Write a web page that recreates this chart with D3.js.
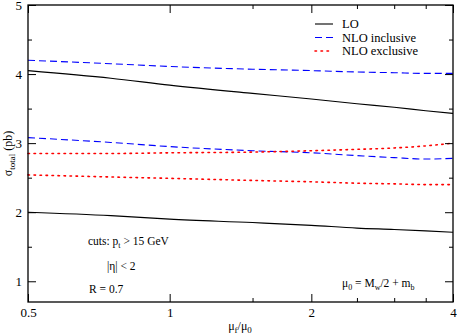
<!DOCTYPE html>
<html>
<head>
<meta charset="utf-8">
<script src="https://cdn.jsdelivr.net/npm/d3@7"></script>
<style>
  body { margin: 0; background: #fff; }
</style>
</head>
<body>
<script>
// scale ratio mu_f/mu_0 where each curve was evaluated
const muRatio = [0.5, 0.75, 1, 1.5, 2, 2.5, 3, 3.5, 4];

// cross sections (pb), two curves per order
const loUpper = [4.05, 3.94, 3.84, 3.72, 3.64, 3.57, 3.52, 3.47, 3.43];
const loLower = [2.00, 1.95, 1.90, 1.85, 1.81, 1.77, 1.75, 1.73, 1.71];
const nloInclUpper = [4.20, 4.15, 4.11, 4.07, 4.05, 4.03, 4.02, 4.01, 4.01];
const nloInclLower = [3.08, 3.01, 2.95, 2.89, 2.86, 2.82, 2.79, 2.77, 2.78];
const nloExclUpper = [2.85, 2.85, 2.86, 2.87, 2.89, 2.91, 2.93, 2.96, 3.00];
const nloExclLower = [2.54, 2.51, 2.49, 2.46, 2.44, 2.42, 2.41, 2.40, 2.40];

const xMajor = [0.5, 1, 2, 4];
const xMinor = [1.5, 2.5, 3, 3.5];
const yMajor = [1, 2, 3, 4, 5];
const yMinor = [1.5, 2.5, 3.5, 4.5];

const legendLabels = ["LO", "NLO inclusive", "NLO exclusive"];

const W = 457, H = 334;
const pLeft = 28, pRight = 453, pTop = 5, pBottom = 302;
const FONT = "'Liberation Serif'";

const svg = d3.select("body").append("svg")
  .attr("width", W)
  .attr("height", H);

const x = d3.scaleLog().domain([0.5, 4]).range([pLeft, pRight]);
const y = d3.scaleLinear().domain([0.7, 5]).range([pBottom, pTop]);

// curves
const styles = [
  { color: "#000", dash: null, w: 1.1 },
  { color: "#0000ff", dash: "7,4", w: 1.1 },
  { color: "#ff0000", dash: "1.5,4.5", w: 1.6 }
];
const curves = [
  [loUpper, 0], [loLower, 0],
  [nloInclUpper, 1], [nloInclLower, 1],
  [nloExclUpper, 2], [nloExclLower, 2]
];

const line = d3.line()
  .x(d => x(d[0]))
  .y(d => y(d[1]))
  .curve(d3.curveMonotoneX);

curves.forEach(([vals, s]) => {
  svg.append("path")
    .datum(muRatio.map((m, i) => [m, vals[i]]))
    .attr("d", line)
    .attr("fill", "none")
    .attr("stroke", styles[s].color)
    .attr("stroke-width", styles[s].w)
    .attr("stroke-dasharray", styles[s].dash)
    .attr("stroke-linecap", s == 2 ? "round" : "butt");
});

// frame
svg.append("rect")
  .attr("x", pLeft).attr("y", pTop)
  .attr("width", pRight - pLeft).attr("height", pBottom - pTop)
  .attr("fill", "none").attr("stroke", "#000").attr("stroke-width", 1.3);

// axes with inward ticks on all four sides
svg.append("g")
  .attr("transform", "translate(0," + pBottom + ")")
  .call(d3.axisBottom(x).tickValues(xMajor).tickFormat(d3.format("")).tickSizeInner(-8).tickSizeOuter(0).tickPadding(6));
svg.append("g")
  .attr("transform", "translate(0," + pBottom + ")")
  .call(d3.axisBottom(x).tickValues(xMinor).tickFormat("").tickSizeInner(-4).tickSizeOuter(0));
svg.append("g")
  .attr("transform", "translate(0," + pTop + ")")
  .call(d3.axisTop(x).tickValues(xMajor).tickFormat("").tickSizeInner(-8).tickSizeOuter(0));
svg.append("g")
  .attr("transform", "translate(0," + pTop + ")")
  .call(d3.axisTop(x).tickValues(xMinor).tickFormat("").tickSizeInner(-4).tickSizeOuter(0));

svg.append("g")
  .attr("transform", "translate(" + pLeft + ",0)")
  .call(d3.axisLeft(y).tickValues(yMajor).tickFormat(d3.format("d")).tickSizeInner(-8).tickSizeOuter(0).tickPadding(6));
svg.append("g")
  .attr("transform", "translate(" + pLeft + ",0)")
  .call(d3.axisLeft(y).tickValues(yMinor).tickFormat("").tickSizeInner(-4).tickSizeOuter(0));
svg.append("g")
  .attr("transform", "translate(" + pRight + ",0)")
  .call(d3.axisRight(y).tickValues(yMajor).tickFormat("").tickSizeInner(-8).tickSizeOuter(0));
svg.append("g")
  .attr("transform", "translate(" + pRight + ",0)")
  .call(d3.axisRight(y).tickValues(yMinor).tickFormat("").tickSizeInner(-4).tickSizeOuter(0));

svg.selectAll(".domain").remove();
svg.selectAll(".tick line").attr("stroke", "#000").attr("stroke-width", 1);
svg.selectAll(".tick text")
  .style("font-size", "13px")
  .attr("fill", "#000");

// axis titles
const yt = svg.append("text")
  .attr("transform", "translate(12," + (pTop + pBottom) / 2 + ") rotate(-90)")
  .attr("text-anchor", "middle")
  .style("font-size", "12px");
yt.append("tspan").text("σ");
yt.append("tspan").attr("dy", 3).style("font-size", "9px").text("total");
yt.append("tspan").attr("dy", -3).text(" (pb)");

const xt = svg.append("text")
  .attr("x", 240).attr("y", 330)
  .attr("text-anchor", "middle")
  .style("font-size", "12px");
xt.append("tspan").text("μ");
xt.append("tspan").attr("dy", 3).style("font-size", "9px").text("f");
xt.append("tspan").attr("dy", -3).text("/μ");
xt.append("tspan").attr("dy", 3).style("font-size", "9px").text("0");

// legend
legendLabels.forEach((lab, i) => {
  const ly = 24 + i * 13.5;
  svg.append("line")
    .attr("x1", 315).attr("x2", 333)
    .attr("y1", ly).attr("y2", ly)
    .attr("stroke", styles[i].color)
    .attr("stroke-width", styles[i].w)
    .attr("stroke-dasharray", styles[i].dash)
    .attr("stroke-linecap", i == 2 ? "round" : "butt");
  svg.append("text")
    .attr("x", 342).attr("y", ly + 4)
    .style("font-size", "12.5px")
    .text(lab);
});

// annotations
const c1 = svg.append("text").attr("x", 88).attr("y", 245).style("font-size", "11.5px");
c1.append("tspan").text("cuts: p");
c1.append("tspan").attr("dy", 3).style("font-size", "8px").text("t");
c1.append("tspan").attr("dy", -3).text(" > 15 GeV");

svg.append("text").attr("x", 107).attr("y", 270).style("font-size", "11.5px").text("|η| < 2");
svg.append("text").attr("x", 89).attr("y", 293).style("font-size", "11.5px").text("R = 0.7");

const m0 = svg.append("text").attr("x", 342).attr("y", 287).style("font-size", "11.5px");
m0.append("tspan").text("μ");
m0.append("tspan").attr("dy", 3).style("font-size", "8px").text("0");
m0.append("tspan").attr("dy", -3).text(" = M");
m0.append("tspan").attr("dy", 3).style("font-size", "8px").text("w");
m0.append("tspan").attr("dy", -3).text("/2 + m");
m0.append("tspan").attr("dy", 3).style("font-size", "8px").text("b");

// serif font on every label
svg.selectAll("g").attr("font-family", null);
svg.selectAll("text").style("font-family", FONT).attr("fill", "#000");
</script>
</body>
</html>
